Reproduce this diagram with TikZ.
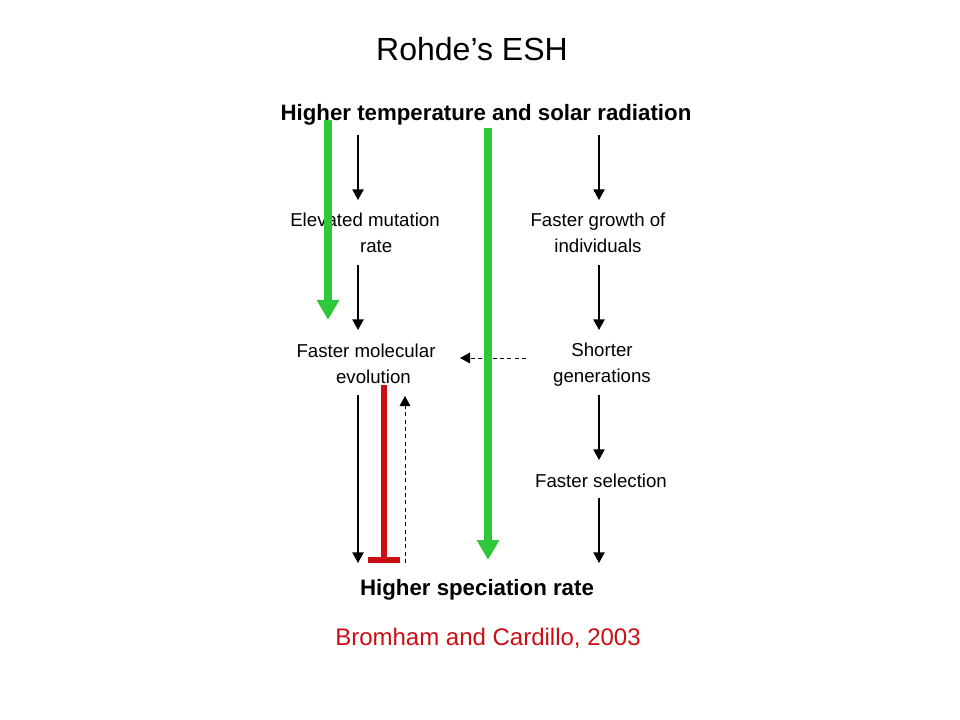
\documentclass[tikz,border=0pt]{standalone}
\usepackage{fontspec}
\setmainfont{Liberation Sans}
\usetikzlibrary{arrows.meta}
\definecolor{grn}{RGB}{47,200,58}
\definecolor{rd}{RGB}{204,14,20}
\tikzset{
  lbl/.style={inner sep=0pt, align=center, font=\fontsize{14}{19.5}\selectfont},
  hdr/.style={inner sep=0pt, font=\fontsize{16.7}{20}\selectfont\bfseries},
  blk/.style={line width=1pt, -{Triangle[width=8.5pt,length=8pt]}},
  dsh/.style={line width=0.7pt, -{Triangle[width=8pt,length=7.5pt]}, dash pattern=on 3pt off 2.5pt},
  garr/.style={grn, line width=5.5pt, -{Triangle[width=16pt,length=15pt]}},
  rbar/.style={rd, line width=4.5pt}
}
\begin{document}
\begin{tikzpicture}[x=0.75pt,y=-0.75pt]
\useasboundingbox (0,0) rectangle (960,720);
\node[inner sep=0pt, font=\fontsize{24}{28}\selectfont] (title) at (472,49) {Rohde’s ESH};
\node[hdr] (top) at (486,115) {Higher temperature and solar radiation};
\node[hdr] (bot) at (477,590) {Higher speciation rate};
\node[inner sep=0pt, text=rd, font=\fontsize{18}{22}\selectfont] (cite) at (488,638) {Bromham and Cardillo, 2003};
\node[lbl] (emr) at (365,233) {Elevated mutation\\\hspace*{1.2em}rate};
\node[lbl] (fme) at (366,364) {Faster molecular\\\hspace*{0.8em}evolution};
\node[lbl] (fgi) at (598,233) {Faster growth of\\individuals};
\node[lbl] (sg) at (602,365) {Shorter\\generations};
\node[lbl] (fs) at (601,481) {Faster selection};
% coordinates for arrow ends
\coordinate (a1s) at (358,135); \coordinate (a1e) at (358,200);
\coordinate (a2s) at (358,265); \coordinate (a2e) at (358,330);
\coordinate (a3s) at (358,395); \coordinate (a3e) at (358,563);
\coordinate (b1s) at (599,135); \coordinate (b1e) at (599,200);
\coordinate (b2s) at (599,265); \coordinate (b2e) at (599,330);
\coordinate (b3s) at (599,395); \coordinate (b3e) at (599,460);
\coordinate (b4s) at (599,498); \coordinate (b4e) at (599,563);
\coordinate (ds) at (526,358); \coordinate (de) at (460,358);
\coordinate (us) at (405,563); \coordinate (ue) at (405,396);
\coordinate (g1s) at (328,120); \coordinate (g1e) at (328,320);
\coordinate (g2s) at (488,128); \coordinate (g2e) at (488,560);
\coordinate (rs) at (384,385); \coordinate (re) at (384,560);
\coordinate (rl) at (368,560); \coordinate (rr) at (400,560);
\draw[blk] (a1s) -- (a1e);
\draw[blk] (a2s) -- (a2e);
\draw[blk] (a3s) -- (a3e);
\draw[blk] (b1s) -- (b1e);
\draw[blk] (b2s) -- (b2e);
\draw[blk] (b3s) -- (b3e);
\draw[blk] (b4s) -- (b4e);
\draw[dsh] (ds) -- (de);
\draw[dsh] (us) -- (ue);
\draw[garr] (g1s) -- (g1e);
\draw[garr] (g2s) -- (g2e);
\draw[rbar] (rs) -- (re);
\draw[rbar] (rl) -- (rr);
\end{tikzpicture}
\end{document}
